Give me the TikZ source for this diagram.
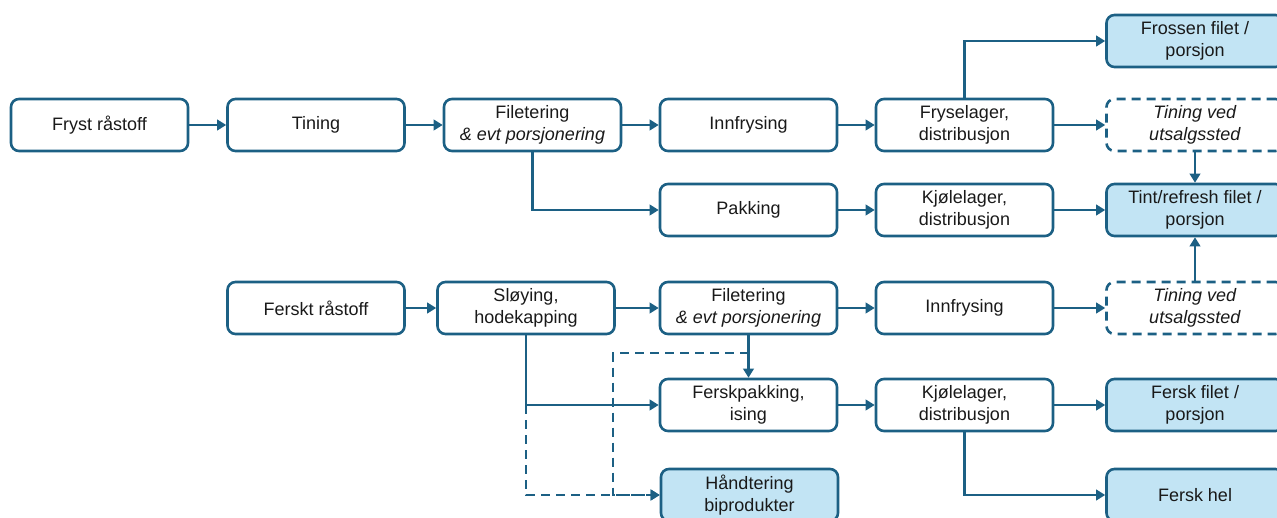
\documentclass[tikz,border=0pt]{standalone}
\usepackage{fontspec}
\setmainfont{Liberation Sans}
\usetikzlibrary{arrows.meta,calc}
\definecolor{ln}{RGB}{28,96,132}
\definecolor{fl}{RGB}{194,228,244}
\definecolor{tx}{RGB}{25,25,25}
\tikzset{
 box/.style={draw=ln, line width=2.6pt, rounded corners=8pt, minimum width=177pt, minimum height=52pt, inner sep=0pt, align=center, font=\fontsize{18}{22}\selectfont, text=tx},
 endbox/.style={box, fill=fl},
 dbox/.style={box, dash pattern=on 9pt off 6pt},
 conn/.style={draw=ln, line width=2.2pt, -{Triangle[length=9pt,width=10.5pt]}},
 dconn/.style={conn, dash pattern=on 9pt off 6pt},
}
\begin{document}
\begin{tikzpicture}[x=1pt,y=-1pt]
\useasboundingbox (0,0) rectangle (1277,518);
\clip (0,0) rectangle (1277,518);
% row 1
\node[box] (fryst) at (99.5,125) {Fryst råstoff};
\node[box] (tining) at (316,125) {Tining};
\node[box] (filet1) at (532.5,125) {Filetering\\\textit{\& evt porsjonering}};
\node[box] (innfr1) at (748.5,125) {Innfrysing};
\node[box] (frysel) at (964.5,125) {Fryselager,\\distribusjon};
\node[dbox] (tvu1) at (1195,125) {\textit{Tining ved}\\\textit{utsalgssted}};
\node[endbox] (frossen) at (1195,41) {Frossen filet /\\porsjon};
% row 2
\node[box] (pakk) at (748.5,210) {Pakking};
\node[box] (kjol1) at (964.5,210) {Kjølelager,\\distribusjon};
\node[endbox] (tint) at (1195,210) {Tint/refresh filet /\\porsjon};
% row 3
\node[box] (ferskt) at (316,308) {Ferskt råstoff};
\node[box] (sloy) at (526,308) {Sløying,\\hodekapping};
\node[box] (filet2) at (748.5,308) {Filetering\\\textit{\& evt porsjonering}};
\node[box] (innfr2) at (964.5,308) {Innfrysing};
\node[dbox] (tvu2) at (1195,308) {\textit{Tining ved}\\\textit{utsalgssted}};
% row 4
\node[box] (ferskp) at (748.5,405) {Ferskpakking,\\ising};
\node[box] (kjol2) at (964.5,405) {Kjølelager,\\distribusjon};
\node[endbox] (ferskfilet) at (1195,405) {Fersk filet /\\porsjon};
% row 5
\node[endbox] (hand) at (749.5,495) {Håndtering\\biprodukter};
\node[endbox] (ferskhel) at (1195,495) {Fersk hel};
% connectors
\draw[conn] (fryst) -- (tining);
\draw[conn] (tining) -- (filet1);
\draw[conn] (filet1) -- (innfr1);
\draw[conn] (innfr1) -- (frysel);
\draw[conn] (frysel) -- (tvu1);
\draw[conn] (frysel.north) |- (frossen);
\draw[conn] (filet1.south) |- (pakk);
\draw[conn] (pakk) -- (kjol1);
\draw[conn] (kjol1) -- (tint);
\draw[conn] (tvu1) -- (tint);
\draw[conn] (tvu2) -- (tint);
\draw[conn] (ferskt) -- (sloy);
\draw[conn] (sloy) -- (filet2);
\draw[conn] (filet2) -- (innfr2);
\draw[conn] (innfr2) -- (tvu2);
\draw[conn] (sloy.south) |- (ferskp);
\draw[conn] (filet2) -- (ferskp);
\draw[conn] (ferskp) -- (kjol2);
\draw[conn] (kjol2) -- (ferskfilet);
\draw[conn] (kjol2.south) |- (ferskhel);
% dashed by-product lines
\coordinate (j1) at (sloy.south |- ferskp.west);
\coordinate (j2) at ($(filet2.south)!0.42!(ferskp.north)$);
\coordinate (k) at (613,0 |- j2);
\draw[dconn] (j1) |- (hand);
\draw[dconn] (j2) -- (k) |- (hand);
\end{tikzpicture}
\end{document}
